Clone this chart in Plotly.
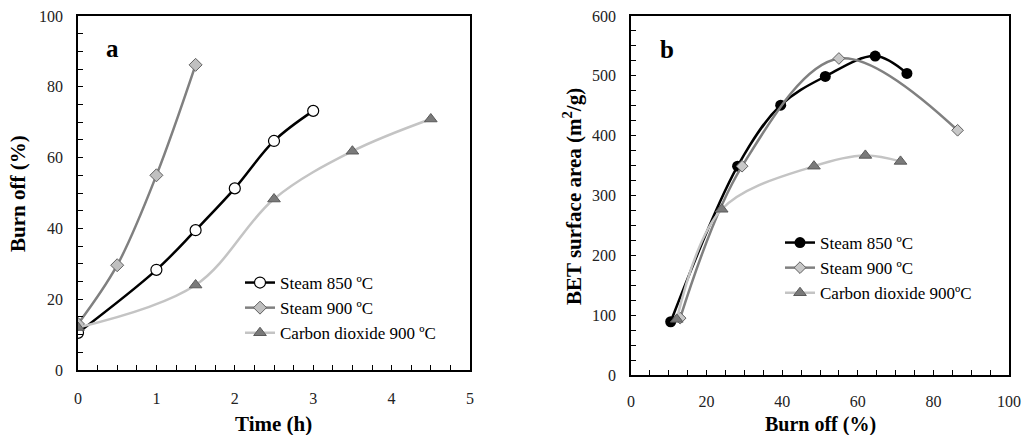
import plotly.graph_objects as go

# ---- Data: panel a (burn off vs time) ----
a_s850_t = [0, 1, 1.5, 2, 2.5, 3]
a_s850_b = [10.5, 28.3, 39.5, 51.3, 64.7, 73.2]
a_s900_t = [0, 0.5, 1, 1.5]
a_s900_b = [13, 29.6, 55.0, 86.2]
a_co2_t = [0, 1.5, 2.5, 3.5, 4.5]
a_co2_b = [12, 24.0, 48.3, 61.8, 70.9]

# ---- Data: panel b (BET surface area vs burn off) ----
b_s850_x = [10.5, 28.2, 39.6, 51.4, 64.6, 73.0]
b_s850_y = [89, 349, 451, 499, 533, 504]
b_s900_x = [13, 29.4, 55.0, 86.4]
b_s900_y = [95, 349, 529, 409]
b_co2_x = [12.1, 24.0, 48.4, 62.0, 71.3]
b_co2_y = [93, 277, 349, 367, 357]

a_xticks = [0, 1, 2, 3, 4, 5]
a_yticks = [0, 20, 40, 60, 80, 100]
b_xticks = [0, 20, 40, 60, 80, 100]
b_yticks = [0, 100, 200, 300, 400, 500, 600]

names = ["Steam 850 ºC", "Steam 900 ºC", "Carbon dioxide 900 ºC"]
names_b = ["Steam 850 ºC", "Steam 900 ºC", "Carbon dioxide 900ºC"]

FONT = "Liberation Serif"
BLACK = "#000000"
GREY = "#808080"
LIGHT = "#c4c4c4"

fig = go.Figure()

# panel a traces
fig.add_trace(go.Scatter(x=a_s850_t, y=a_s850_b, name=names[0], mode="lines+markers",
                         line=dict(color=BLACK, width=2.5, shape="spline"),
                         marker=dict(symbol="circle", size=11, color="white", line=dict(color=BLACK, width=1.2)),
                         xaxis="x", yaxis="y", legend="legend", legendgroup="a1"))
fig.add_trace(go.Scatter(x=a_s900_t, y=a_s900_b, name=names[1], mode="lines+markers",
                         line=dict(color=GREY, width=2.5, shape="spline"),
                         marker=dict(symbol="diamond", size=10, color="#c0c0c0", line=dict(color="#606060", width=1)),
                         xaxis="x", yaxis="y", legend="legend", legendgroup="a2"))
fig.add_trace(go.Scatter(x=a_co2_t, y=a_co2_b, name=names[2], mode="lines+markers",
                         line=dict(color=LIGHT, width=2.5, shape="spline"),
                         marker=dict(symbol="triangle-up", size=11, color="#7a7a7a", line=dict(color="#5a5a5a", width=1)),
                         xaxis="x", yaxis="y", legend="legend", legendgroup="a3"))

# panel b traces
fig.add_trace(go.Scatter(x=b_s850_x, y=b_s850_y, name=names_b[0], mode="lines+markers",
                         line=dict(color=BLACK, width=2.5, shape="spline"),
                         marker=dict(symbol="circle", size=11, color=BLACK),
                         xaxis="x2", yaxis="y2", legend="legend2", legendgroup="b1"))
fig.add_trace(go.Scatter(x=b_s900_x, y=b_s900_y, name=names_b[1], mode="lines+markers",
                         line=dict(color=GREY, width=2.5, shape="spline"),
                         marker=dict(symbol="diamond", size=9, color="#c8c8c8", line=dict(color="#606060", width=1)),
                         xaxis="x2", yaxis="y2", legend="legend2", legendgroup="b2"))
fig.add_trace(go.Scatter(x=b_co2_x, y=b_co2_y, name=names_b[2], mode="lines+markers",
                         line=dict(color=LIGHT, width=2.5, shape="spline"),
                         marker=dict(symbol="triangle-up", size=11, color="#7a7a7a", line=dict(color="#5a5a5a", width=1)),
                         xaxis="x2", yaxis="y2", legend="legend2", legendgroup="b3"))

W, H = 1024, 435
def fx(px): return px / W
def fy(py): return 1 - py / H

axis_common = dict(showline=True, linecolor=BLACK, linewidth=1.5, mirror=True,
                   ticks="inside", ticklen=5, tickwidth=1.2, tickcolor=BLACK,
                   showgrid=False, zeroline=False, automargin=False,
                   tickfont=dict(family=FONT, size=16, color="#222"))

def ann(text, x, y, size, angle=0):
    return dict(text=text, x=fx(x), y=fy(y), xref="paper", yref="paper", showarrow=False,
                xanchor="center", yanchor="middle", textangle=angle,
                font=dict(family=FONT, size=size, color=BLACK))

fig.update_layout(
    width=W, height=H,
    margin=dict(l=0, r=0, t=0, b=0, pad=0),
    paper_bgcolor="white", plot_bgcolor="white",
    font=dict(family=FONT, color=BLACK),
    xaxis=dict(domain=[fx(78), fx(470)], range=[0, 5], tickvals=a_xticks, anchor="y",
               minor=dict(dtick=0.25, ticks="inside", ticklen=5, tickcolor=BLACK, tickwidth=1.2),
               ticklabelstandoff=13, **axis_common),
    yaxis=dict(domain=[fy(370), fy(16)], range=[0, 100], tickvals=a_yticks, anchor="x",
               minor=dict(dtick=5, ticks="inside", ticklen=5, tickcolor=BLACK, tickwidth=1.2),
               ticklabelstandoff=10, **axis_common),
    xaxis2=dict(domain=[fx(631), fx(1009)], range=[0, 100], tickvals=b_xticks, anchor="y2",
                minor=dict(dtick=5, ticks="inside", ticklen=5, tickcolor=BLACK, tickwidth=1.2),
                ticklabelstandoff=11, **axis_common),
    yaxis2=dict(domain=[fy(375), fy(16)], range=[0, 600], tickvals=b_yticks, anchor="x2",
                minor=dict(dtick=25, ticks="inside", ticklen=5, tickcolor=BLACK, tickwidth=1.2),
                ticklabelstandoff=10, **axis_common),
    legend=dict(x=fx(240), y=fy(265), xanchor="left", yanchor="top",
                font=dict(family=FONT, size=17, color=BLACK), bgcolor="rgba(0,0,0,0)",
                traceorder="grouped", tracegroupgap=0, itemwidth=30),
    legend2=dict(x=fx(780), y=fy(225), xanchor="left", yanchor="top",
                 font=dict(family=FONT, size=17, color=BLACK), bgcolor="rgba(0,0,0,0)",
                 traceorder="grouped", tracegroupgap=0, itemwidth=30),
    annotations=[
        ann("<b>a</b>", 112, 48, 25),
        ann("<b>b</b>", 667, 50, 25),
        ann("<b>Burn off (%)</b>", 18, 194, 21, -90),
        ann("<b>Time (h)</b>", 273, 424, 21),
        ann("<b>BET surface area (m<sup>2</sup>/g)</b>", 572, 197, 21, -90),
        ann("<b>Burn off (%)</b>", 820, 424, 20),
    ],
)

fig.write_html("out.html", config={"displayModeBar": False},
               post_script="document.body.style.margin='0';document.body.style.overflow='hidden';")
